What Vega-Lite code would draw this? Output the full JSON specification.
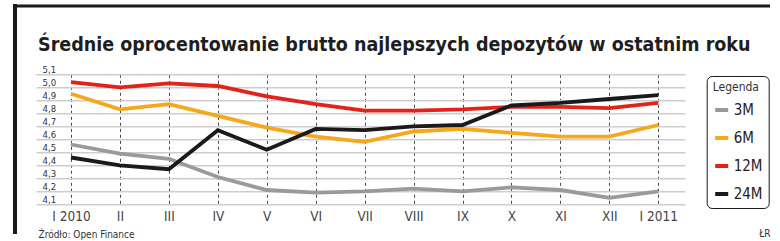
{
  "$schema": "https://vega.github.io/schema/vega-lite/v6.json",
  "width": 649,
  "height": 130,
  "autosize": {"type": "none"},
  "padding": {"left": 36, "top": 74.3, "right": 95, "bottom": 36.7},
  "background": "white",
  "title": {
    "text": "Średnie oprocentowanie brutto najlepszych depozytów w ostatnim roku",
    "anchor": "start",
    "frame": "group",
    "font": "'DejaVu Sans Condensed', Roboto, sans-serif",
    "fontSize": 19.5,
    "fontWeight": "bold",
    "color": "#1e1e1e",
    "baseline": "alphabetic",
    "offset": -69,
    "dx": 2
  },
  "config": {
    "view": {"stroke": null},
    "font": "'DejaVu Sans Condensed', Roboto, sans-serif"
  },
  "data": {
    "values": [
      {"month": "I 2010", "idx": 0, "series": "3M", "rate": 4.56},
      {"month": "II", "idx": 1, "series": "3M", "rate": 4.49},
      {"month": "III", "idx": 2, "series": "3M", "rate": 4.45},
      {"month": "IV", "idx": 3, "series": "3M", "rate": 4.31},
      {"month": "V", "idx": 4, "series": "3M", "rate": 4.21},
      {"month": "VI", "idx": 5, "series": "3M", "rate": 4.19},
      {"month": "VII", "idx": 6, "series": "3M", "rate": 4.20},
      {"month": "VIII", "idx": 7, "series": "3M", "rate": 4.22},
      {"month": "IX", "idx": 8, "series": "3M", "rate": 4.20},
      {"month": "X", "idx": 9, "series": "3M", "rate": 4.23},
      {"month": "XI", "idx": 10, "series": "3M", "rate": 4.21},
      {"month": "XII", "idx": 11, "series": "3M", "rate": 4.15},
      {"month": "I 2011", "idx": 12, "series": "3M", "rate": 4.20},
      {"month": "I 2010", "idx": 0, "series": "6M", "rate": 4.95},
      {"month": "II", "idx": 1, "series": "6M", "rate": 4.83},
      {"month": "III", "idx": 2, "series": "6M", "rate": 4.87},
      {"month": "IV", "idx": 3, "series": "6M", "rate": 4.78},
      {"month": "V", "idx": 4, "series": "6M", "rate": 4.69},
      {"month": "VI", "idx": 5, "series": "6M", "rate": 4.62},
      {"month": "VII", "idx": 6, "series": "6M", "rate": 4.58},
      {"month": "VIII", "idx": 7, "series": "6M", "rate": 4.66},
      {"month": "IX", "idx": 8, "series": "6M", "rate": 4.68},
      {"month": "X", "idx": 9, "series": "6M", "rate": 4.65},
      {"month": "XI", "idx": 10, "series": "6M", "rate": 4.62},
      {"month": "XII", "idx": 11, "series": "6M", "rate": 4.62},
      {"month": "I 2011", "idx": 12, "series": "6M", "rate": 4.71},
      {"month": "I 2010", "idx": 0, "series": "12M", "rate": 5.04},
      {"month": "II", "idx": 1, "series": "12M", "rate": 5.00},
      {"month": "III", "idx": 2, "series": "12M", "rate": 5.03},
      {"month": "IV", "idx": 3, "series": "12M", "rate": 5.01},
      {"month": "V", "idx": 4, "series": "12M", "rate": 4.93},
      {"month": "VI", "idx": 5, "series": "12M", "rate": 4.87},
      {"month": "VII", "idx": 6, "series": "12M", "rate": 4.82},
      {"month": "VIII", "idx": 7, "series": "12M", "rate": 4.82},
      {"month": "IX", "idx": 8, "series": "12M", "rate": 4.83},
      {"month": "X", "idx": 9, "series": "12M", "rate": 4.85},
      {"month": "XI", "idx": 10, "series": "12M", "rate": 4.85},
      {"month": "XII", "idx": 11, "series": "12M", "rate": 4.84},
      {"month": "I 2011", "idx": 12, "series": "12M", "rate": 4.88},
      {"month": "I 2010", "idx": 0, "series": "24M", "rate": 4.46},
      {"month": "II", "idx": 1, "series": "24M", "rate": 4.40},
      {"month": "III", "idx": 2, "series": "24M", "rate": 4.37},
      {"month": "IV", "idx": 3, "series": "24M", "rate": 4.67},
      {"month": "V", "idx": 4, "series": "24M", "rate": 4.52},
      {"month": "VI", "idx": 5, "series": "24M", "rate": 4.68},
      {"month": "VII", "idx": 6, "series": "24M", "rate": 4.67},
      {"month": "VIII", "idx": 7, "series": "24M", "rate": 4.70},
      {"month": "IX", "idx": 8, "series": "24M", "rate": 4.71},
      {"month": "X", "idx": 9, "series": "24M", "rate": 4.86},
      {"month": "XI", "idx": 10, "series": "24M", "rate": 4.88},
      {"month": "XII", "idx": 11, "series": "24M", "rate": 4.91},
      {"month": "I 2011", "idx": 12, "series": "24M", "rate": 4.94}
    ]
  },
  "layer": [
    {
      "mark": {"type": "line", "strokeWidth": 3.8, "strokeJoin": "miter", "strokeCap": "butt"},
      "encoding": {
        "x": {
          "field": "idx",
          "type": "quantitative",
          "scale": {"domain": [-0.715, 12.546], "nice": false, "zero": false},
          "axis": {
            "orient": "bottom",
            "values": [0, 1, 2, 3, 4, 5, 6, 7, 8, 9, 10, 11, 12],
            "tickCount": 13,
            "labelExpr": "['I 2010','II','III','IV','V','VI','VII','VIII','IX','X','XI','XII','I 2011'][datum.value]",
            "labelOverlap": false,
            "domain": false,
            "ticks": false,
            "grid": true,
            "gridDash": [3, 3],
            "gridColor": "#333333",
            "gridWidth": 0.9,
            "labelFontSize": 13.5,
            "labelColor": "#444444",
            "labelPadding": 5,
            "title": "Źródło: Open Finance",
            "titleFontSize": 10,
            "titleFontWeight": "normal",
            "titleColor": "#333333",
            "titleAnchor": "start",
            "titleAlign": "left",
            "titleBaseline": "alphabetic",
            "titleX": 2,
            "titleY": 33
          }
        },
        "y": {
          "field": "rate",
          "type": "quantitative",
          "scale": {"domain": [4.1, 5.1], "nice": false, "zero": false},
          "axis": {
            "orient": "left",
            "values": [4.1, 4.2, 4.3, 4.4, 4.5, 4.6, 4.7, 4.8, 4.9, 5.0, 5.1],
            "tickCount": 11,
            "labelExpr": "replace(format(datum.value, '.1f'), '.', ',')",
            "labelOverlap": false,
            "labelFlush": false,
            "domain": false,
            "ticks": false,
            "grid": true,
            "gridColor": "#cdcdcd",
            "gridWidth": 1.5,
            "labelAlign": "left",
            "labelBaseline": "alphabetic",
            "labelPadding": -6,
            "labelOffset": -1.8,
            "labelFontSize": 9.5,
            "labelColor": "#333333",
            "title": null
          }
        },
        "color": {
          "field": "series",
          "type": "nominal",
          "scale": {
            "domain": ["3M", "6M", "12M", "24M"],
            "range": ["#9a9a9a", "#f5a81c", "#e2231a", "#1a1a1a"]
          },
          "legend": {
            "orient": "none",
            "legendX": 670.7,
            "legendY": 1.7,
            "title": "Legenda",
            "titleFontSize": 12,
            "titleFontWeight": "normal",
            "titleColor": "#333333",
            "titlePadding": 7,
            "symbolType": "stroke",
            "symbolSize": 170,
            "symbolStrokeWidth": 4,
            "labelFontSize": 15,
            "labelColor": "#222222",
            "labelOffset": 3,
            "rowPadding": 11,
            "padding": 6,
            "strokeColor": "#1a1a1a",
            "cornerRadius": 5,
            "fillColor": "white"
          }
        }
      }
    },
    {
      "data": {"values": [{"part": "frame-left"}]},
      "mark": {"type": "rule", "color": "#1a1a1a", "strokeWidth": 4, "clip": false},
      "encoding": {
        "x": {"datum": -1.144, "type": "quantitative"},
        "y": {"datum": 5.6408, "type": "quantitative"},
        "y2": {"datum": 3.8715}
      }
    },
    {
      "data": {"values": [{"part": "frame-top"}]},
      "mark": {"type": "rule", "color": "#1a1a1a", "strokeWidth": 3, "clip": false},
      "encoding": {
        "y": {"datum": 5.6254, "type": "quantitative"},
        "x": {"datum": -1.185, "type": "quantitative"},
        "x2": {"datum": 14.283}
      }
    },
    {
      "data": {"values": [{"note": "ŁR"}]},
      "mark": {"type": "text", "fontSize": 10, "color": "#333333", "align": "center", "baseline": "alphabetic", "clip": false},
      "encoding": {
        "x": {"datum": 14.18, "type": "quantitative"},
        "y": {"datum": 3.848, "type": "quantitative"},
        "text": {"field": "note"}
      }
    }
  ]
}
